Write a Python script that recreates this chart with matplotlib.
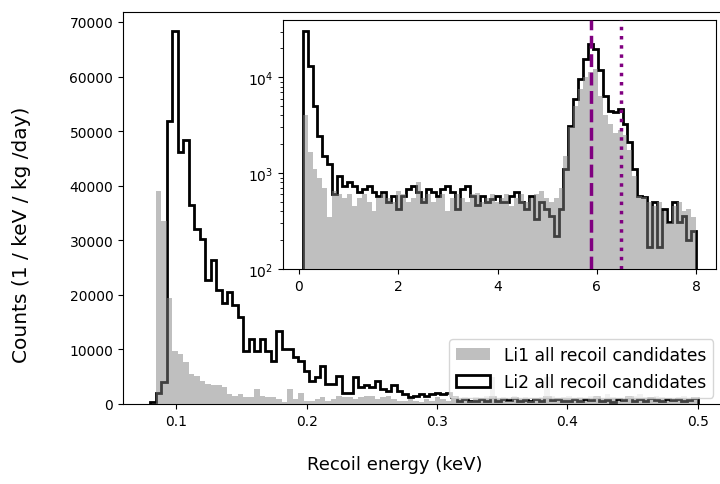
import matplotlib.pyplot as plt
import numpy as np

# main panel: 100 bins from 0.08 to 0.5 keV
e_lo, e_hi, n_bins = 0.08, 0.5, 100

li1 = [0, 39100, 33600, 19500, 9800, 9200, 7700, 5500, 5200, 4300,
       3700, 3400, 3400, 3100, 1800, 1500, 1800, 1200, 1200, 2700,
       1500, 1200, 1200, 900, 300, 2700, 900, 2100, 600, 600,
       900, 1200, 600, 900, 1500, 1200, 1200, 900, 1200, 1500,
       1500, 900, 1200, 1500, 900, 600, 600, 900, 600, 300,
       900, 600, 1200, 900, 600, 1200, 900, 1200, 600, 1200,
       900, 1500, 5000, 900, 1200, 600, 1500, 900, 1200, 600,
       900, 1200, 5000, 1500, 900, 1200, 1500, 900, 1200, 600,
       1500, 1200, 900, 1800, 1200, 600, 900, 1200, 1500, 1800,
       1200, 900, 1500, 1200, 600, 900, 1200, 1500, 900, 1200]

li2 = [300, 2100, 4000, 51900, 68400, 46200, 48400, 36500, 32100, 30200,
       22700, 26400, 20900, 18500, 20500, 18100, 15900, 9800, 11900, 9800,
       11900, 9800, 7900, 13400, 10000, 10000, 8600, 7900, 6100, 4300,
       4900, 7000, 3700, 3700, 5200, 2000, 2000, 4900, 3100, 3500,
       3100, 4300, 2700, 2400, 3400, 2400, 1800, 1200, 1500, 1800,
       1500, 1800, 2000, 1800, 2100, 1200, 600, 900, 600, 600,
       900, 600, 1200, 600, 900, 700, 1100, 600, 800, 500,
       900, 600, 1300, 700, 1000, 600, 500, 900, 600, 1000,
       700, 1200, 600, 800, 400, 1000, 700, 1200, 600, 900,
       500, 1100, 800, 600, 1000, 700, 900, 500, 800, 1100]

# inset: 80 bins from 0.08 to 8 keV
i_lo, i_hi, i_bins = 0.08, 8.0, 80

li1_in = [4000, 1650, 1100, 900, 700, 350, 650, 600, 550, 600,
          450, 550, 600, 500, 400, 550, 600, 550, 500, 650,
          600, 500, 550, 800, 550, 600, 500, 550, 600, 400,
          550, 600, 550, 500, 600, 620, 500, 550, 600, 500,
          550, 600, 450, 550, 600, 500, 550, 600, 650, 550,
          500, 550, 700, 1500, 3000, 5000, 7500, 10000, 11300, 12100,
          6450, 4000, 3250, 2650, 2800, 2500, 1750, 942, 580, 560,
          500, 450, 500, 400, 300, 450, 500, 400, 420, 350]

li2_in = [30700, 13200, 5070, 2460, 1520, 1250, 600, 940, 740, 800,
          740, 640, 680, 740, 640, 580, 640, 500, 580, 420,
          580, 680, 740, 640, 500, 680, 640, 580, 680, 740,
          640, 420, 680, 740, 580, 460, 580, 500, 540, 580,
          500, 500, 580, 640, 500, 420, 580, 330, 500, 420,
          360, 220, 420, 1100, 3130, 5960, 9620, 15500, 22300, 19800,
          11800, 6450, 4490, 4300, 4680, 3250, 2090, 1100, 580, 560,
          170, 500, 170, 420, 310, 500, 310, 360, 200, 250]

line_a = 5.88
line_b = 6.49

edges = np.linspace(e_lo, e_hi, n_bins + 1)
centers = 0.5 * (edges[1:] + edges[:-1])
edges_in = np.linspace(i_lo, i_hi, i_bins + 1)
centers_in = 0.5 * (edges_in[1:] + edges_in[:-1])

fig = plt.figure(figsize=(7.2, 4.85), dpi=100)
ax = fig.add_axes([123 / 720, 80 / 485, 602 / 720, 392 / 485])

ax.hist(centers, bins=edges, weights=li1, histtype="stepfilled",
        color="gray", alpha=0.5, zorder=3, label="Li1 all recoil candidates")
ax.hist(centers, bins=edges, weights=li2, histtype="step",
        color="black", linewidth=2, zorder=2, label="Li2 all recoil candidates")
ax.tick_params(labelsize=10)
ax.legend(loc="upper right", bbox_to_anchor=(0.98, 0.165), borderaxespad=0,
          fontsize=12.3)

# labels sit at the centre of the (wider, cropped) original figure
fig.text(395 / 720, 1 - 465 / 485, "Recoil energy (keV)", fontsize=13,
         ha="center", va="center")
fig.text(22 / 720, 1 - 235 / 485, "Counts (1 / keV / kg /day)", fontsize=14.5,
         ha="center", va="center", rotation=90)

ins = fig.add_axes([283 / 720, 215 / 485, 433 / 720, 249 / 485])
ins.hist(centers_in, bins=edges_in, weights=li1_in, histtype="stepfilled",
         color="gray", alpha=0.5, zorder=3, log=True)
ins.hist(centers_in, bins=edges_in, weights=li2_in, histtype="step",
         color="black", linewidth=2, zorder=2, log=True)
ins.axvline(line_a, color="purple", linestyle="--", linewidth=2.5, zorder=4)
ins.axvline(line_b, color="purple", linestyle=":", linewidth=2.5, zorder=4)
ins.set_ylim(100, 39600)
ins.set_xticks([0, 2, 4, 6, 8])
ins.tick_params(labelsize=10)

fig.savefig("out.png", dpi=100)
